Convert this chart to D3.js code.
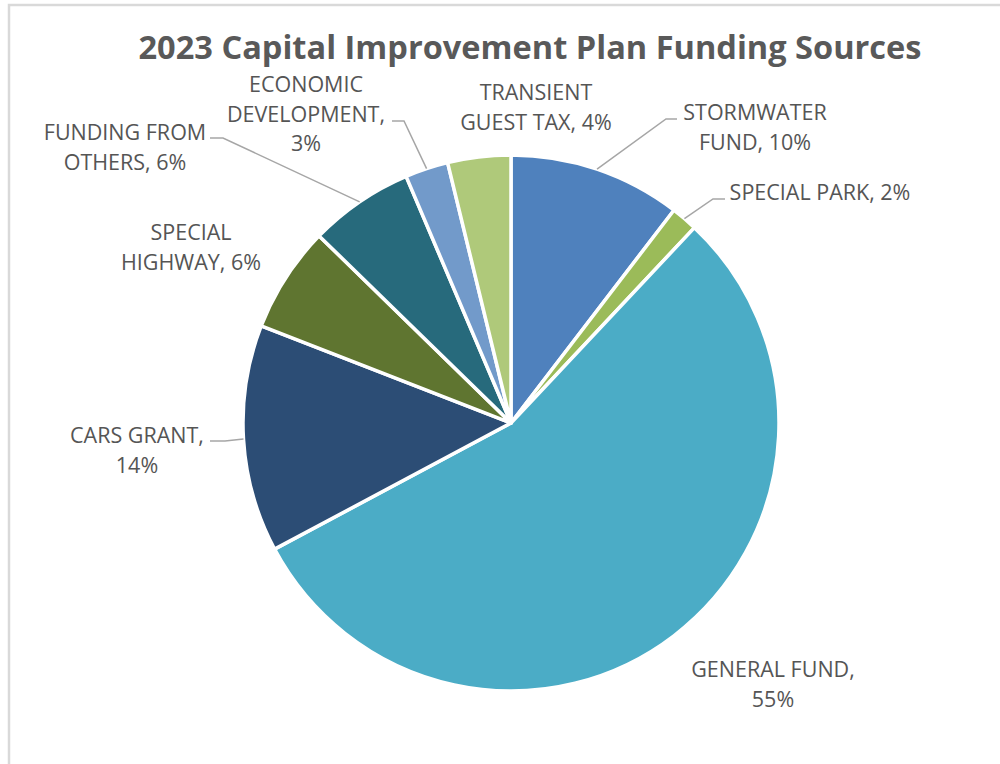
<!DOCTYPE html>
<html>
<head>
<meta charset="utf-8">
<script src="https://cdn.jsdelivr.net/npm/d3@7"></script>
<style>
  html, body { margin: 0; padding: 0; background: #fff; }
  svg { display: block; }
</style>
</head>
<body>
<svg id="chart" width="1000" height="764"></svg>
<script>
// Funding sources, clockwise from 12 o'clock (share of total, %)
const categories = [
  "STORMWATER FUND",
  "SPECIAL PARK",
  "GENERAL FUND",
  "CARS GRANT",
  "SPECIAL HIGHWAY",
  "FUNDING FROM OTHERS",
  "ECONOMIC DEVELOPMENT",
  "TRANSIENT GUEST TAX"
];
const shares = [10.4, 1.6, 55.2, 13.7, 6.4, 6.3, 2.6, 3.8];
const colors = ["#4f81bd", "#9bbb59", "#4bacc6", "#2c4d75", "#5f7530", "#276a7c", "#729aca", "#afc97a"];

// Label placement: centre x, first baseline, words per line, optional leader (elbow + end at text)
const labelLayout = [
  { x: 755, y: 120, wrap: [1, 2], leader: { elbow: [666, 119], end: [677, 119] } },
  { x: 820, y: 200, wrap: [3],    leader: { elbow: [713, 199], end: [725, 199] } },
  { x: 773, y: 677, wrap: [2, 1] },
  { x: 137, y: 443, wrap: [2, 1], leader: { elbow: [225, 441], end: [210, 441] } },
  { x: 191, y: 240, wrap: [1, 2] },
  { x: 125, y: 140, wrap: [2, 2], leader: { elbow: [223, 138], end: [210, 138] } },
  { x: 306, y: 92,  wrap: [1, 1, 1], leader: { elbow: [404, 121], end: [392, 121] } },
  { x: 536, y: 100, wrap: [1, 3] }
];

const svg = d3.select("#chart");
const cx = 511, cy = 423, radius = 268;
const lineH = 29.5;

// frame
svg.append("path")
  .attr("d", "M9,764 V5 H1000")
  .attr("fill", "none")
  .attr("stroke", "#d9d9d9")
  .attr("stroke-width", 2.5);

// title
svg.append("text")
  .attr("x", 530)
  .attr("y", 59)
  .attr("text-anchor", "middle")
  .attr("font-family", "'Open Sans', sans-serif")
  .attr("font-weight", 700)
  .attr("font-size", 33)
  .attr("fill", "#595959")
  .attr("textLength", 783)
  .attr("lengthAdjust", "spacingAndGlyphs")
  .text("2023 Capital Improvement Plan Funding Sources");

const data = categories.map((name, i) => ({ name, value: shares[i], color: colors[i], layout: labelLayout[i] }));
const total = d3.sum(shares);

const pie = d3.pie().value(d => d.value).sort(null);
const arc = d3.arc().innerRadius(0).outerRadius(radius);
const arcs = pie(data);

const g = svg.append("g").attr("transform", `translate(${cx},${cy})`);

g.selectAll("path.slice")
  .data(arcs)
  .join("path")
  .attr("class", "slice")
  .attr("d", arc)
  .attr("fill", d => d.data.color)
  .attr("stroke", "#fff")
  .attr("stroke-width", 3.5)
  .attr("stroke-linejoin", "round");

// leader lines: from the slice's outer edge at mid-angle, via an elbow, to the label
const leaders = arcs.filter(d => d.data.layout.leader);
svg.selectAll("path.leader")
  .data(leaders)
  .join("path")
  .attr("class", "leader")
  .attr("fill", "none")
  .attr("stroke", "#a6a6a6")
  .attr("stroke-width", 1.5)
  .attr("d", d => {
    const a = (d.startAngle + d.endAngle) / 2;
    const px = cx + radius * Math.sin(a);
    const py = cy - radius * Math.cos(a);
    const L = d.data.layout.leader;
    return d3.line()([[px, py], L.elbow, L.end]);
  });

// labels: "NAME, NN%" broken into lines
const labels = svg.selectAll("text.label")
  .data(arcs)
  .join("text")
  .attr("class", "label")
  .attr("text-anchor", "middle")
  .attr("font-family", "'Open Sans', sans-serif")
  .attr("font-size", 21.5)
  .attr("fill", "#555555");

labels.each(function (d) {
  const words = (d.data.name + ", " + Math.round(d.data.value / total * 100) + "%").split(" ");
  const lay = d.data.layout;
  let k = 0;
  lay.wrap.forEach((n, li) => {
    d3.select(this).append("tspan")
      .attr("x", lay.x)
      .attr("y", lay.y + li * lineH)
      .text(words.slice(k, k + n).join(" "));
    k += n;
  });
});
</script>
</body>
</html>
